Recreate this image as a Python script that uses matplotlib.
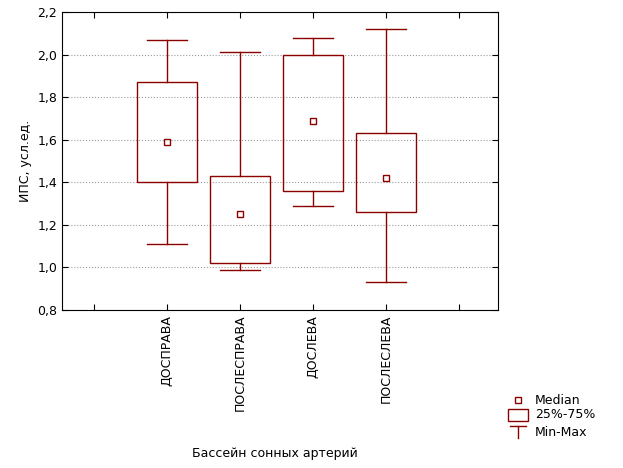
import matplotlib
matplotlib.use("Agg")
import matplotlib.pyplot as plt
from matplotlib.patches import Rectangle

categories = ["ДОСПРАВА", "ПОСЛЕСПРАВА", "ДОСЛЕВА", "ПОСЛЕСЛЕВА"]
mins = [1.11, 0.99, 1.29, 0.93]
q1s = [1.40, 1.02, 1.36, 1.26]
medians = [1.59, 1.25, 1.69, 1.42]
q3s = [1.87, 1.43, 2.00, 1.63]
maxs = [2.07, 2.01, 2.08, 2.12]

C = "#8b0000"
fig = plt.figure(figsize=(6.23, 4.68), dpi=100)
ax = fig.add_axes([62 / 623, 1 - 310 / 468, 436 / 623, 298 / 468])

bw, cw = 0.82, 0.55
for i, name in enumerate(categories):
    x = i + 1
    ax.add_patch(Rectangle((x - bw / 2, q1s[i]), bw, q3s[i] - q1s[i], fill=False, ec=C, lw=1, zorder=3))
    ax.plot([x, x], [maxs[i], q3s[i]], color=C, lw=1)
    ax.plot([x, x], [q1s[i], mins[i]], color=C, lw=1)
    ax.plot([x - cw / 2, x + cw / 2], [maxs[i], maxs[i]], color=C, lw=1)
    ax.plot([x - cw / 2, x + cw / 2], [mins[i], mins[i]], color=C, lw=1)
    ax.plot(x, medians[i], "s", ms=4.5, mfc="white", mec=C, mew=1, zorder=4)

ax.set_xlim(-0.44, 5.53)
ax.set_ylim(0.8, 2.2)
ax.set_xticks(range(0, 6))
ax.set_xticklabels([""] + categories + [""], rotation=90, fontsize=9)
yt = [0.8 + 0.2 * k for k in range(8)]
ax.set_yticks(yt)
ax.set_yticklabels([f"{v:.1f}".replace(".", ",") for v in yt], fontsize=9)
ax.tick_params(direction="in", top=True, right=True, length=4)
ax.yaxis.grid(True, ls=":", color="#999999", lw=0.8)
ax.set_ylabel("ИПС, усл.ед.", fontsize=9)
fig.text(275 / 623, 1 - 453 / 468, "Бассейн сонных артерий", ha="center", va="center", fontsize=9)

# legend
lg = fig.add_axes([500 / 623, 1 - 448 / 468, 120 / 623, 56 / 468])
lg.set_xlim(0, 120)
lg.set_ylim(56, 0)
lg.axis("off")
lg.plot(18, 8, "s", ms=4.5, mfc="white", mec=C, mew=1)
lg.text(35, 8, "Median", va="center", fontsize=9)
lg.add_patch(Rectangle((8, 17), 20, 12, fill=False, ec=C, lw=1))
lg.text(35, 23, "25%-75%", va="center", fontsize=9)
lg.plot([10, 26], [34, 34], color=C, lw=1)
lg.plot([18, 18], [34, 46], color=C, lw=1)
lg.text(35, 40, "Min-Max", va="center", fontsize=9)

fig.savefig("out.png", dpi=100)
